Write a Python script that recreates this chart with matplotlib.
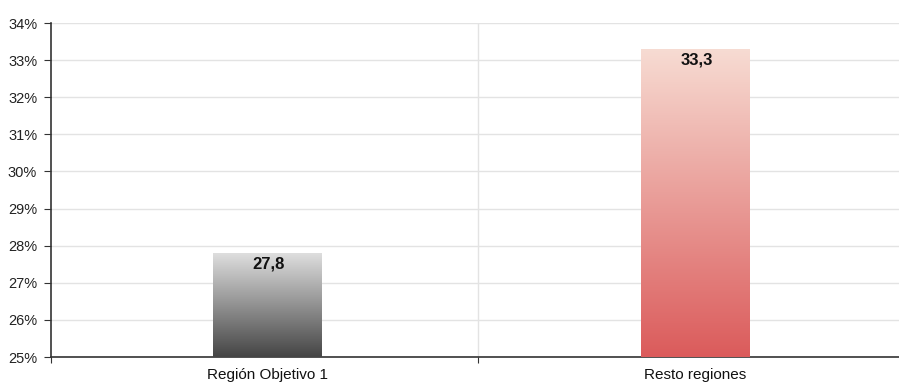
import numpy as np
import matplotlib.pyplot as plt
from matplotlib.colors import LinearSegmentedColormap
from matplotlib.patches import Rectangle

# data
categories = ["Región Objetivo 1", "Resto regiones"]
values = [27.8, 33.3]
value_labels = ["27,8", "33,3"]
yticks = [25, 26, 27, 28, 29, 30, 31, 32, 33, 34]

plt.rcParams['font.family'] = ['Liberation Sans', 'DejaVu Sans']

fig = plt.figure(figsize=(8.99, 3.88), dpi=100)
ax = fig.add_axes([51/899, 1 - 357/388, 1 - 51/899, (357 - 23)/388])

grads = [("#dedede", "#454545"), ("#f7dcd3", "#db5b5b")]
bar_w = 0.253
centers = [0.5, 1.5]
for c, v, (top, bot), lab in zip(centers, values, grads, value_labels):
    cmap = LinearSegmentedColormap.from_list("g", [bot, top])
    grad = np.linspace(0, 1, 256).reshape(-1, 1)
    im = ax.imshow(grad, cmap=cmap, aspect="auto", origin="lower",
                   extent=[c - bar_w/2, c + bar_w/2, 25, v], zorder=3)
    clip = Rectangle((c - bar_w/2, 25), bar_w, v - 25, transform=ax.transData)
    im.set_clip_path(clip)
    ax.text(c + 0.003, v - 0.1, lab, ha="center", va="top", fontsize=12,
            fontweight="bold", family=['Liberation Sans Narrow', 'Liberation Sans'],
            color="#111111", zorder=4)

sep = 0.993
ax.set_xlim(-0.005, 1.976)
ax.set_ylim(25, 34)
ax.set_yticks(yticks)
ax.set_yticklabels([f"{t}%" for t in yticks], fontsize=10.5, color="#222222")
ax.set_xticks([-0.005, sep])
ax.set_xticklabels([])
ax.set_xticks(centers, minor=True)
ax.set_xticklabels(categories, minor=True, fontsize=11, color="#111111")
ax.tick_params(axis="x", which="minor", length=0, pad=8)
ax.tick_params(axis="x", which="major", length=4, color="#333333")
ax.tick_params(axis="y", length=5, color="#333333", pad=5)

ax.grid(axis="y", color="#e3e3e3", linewidth=1, zorder=0)
ax.axvline(sep, color="#e3e3e3", linewidth=1, zorder=0)
for s in ["top", "right"]:
    ax.spines[s].set_visible(False)
ax.spines["left"].set_color("#333333")
ax.spines["bottom"].set_color("#333333")
ax.spines["left"].set_linewidth(1.2)
ax.spines["bottom"].set_linewidth(1.2)

fig.savefig("out.png", dpi=100)
